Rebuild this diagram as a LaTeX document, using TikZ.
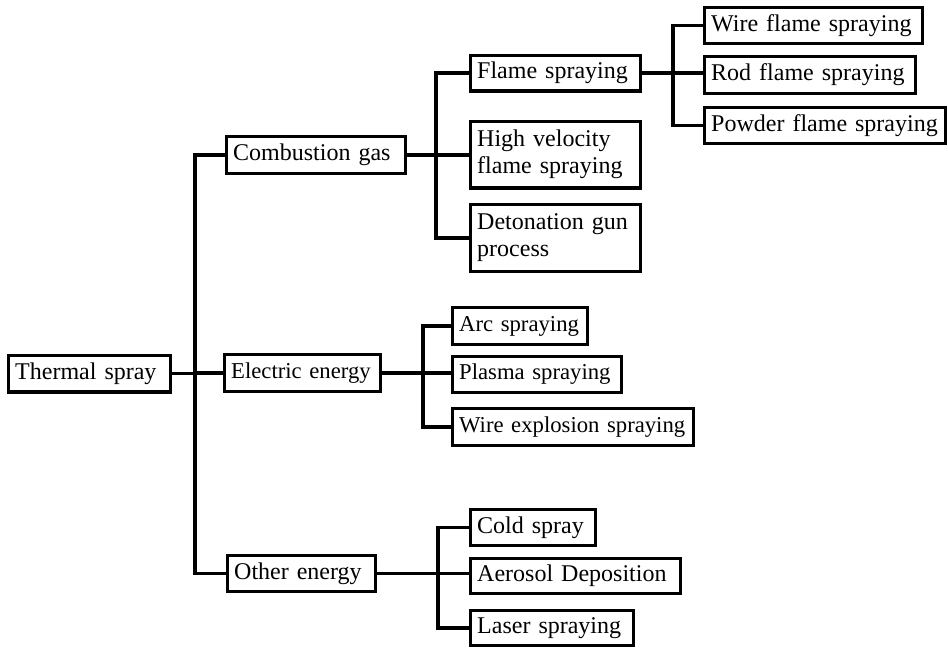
\documentclass[tikz,border=0pt]{standalone}
\usepackage{fontspec}
\setmainfont{Liberation Serif}
\begin{document}
\begin{tikzpicture}[x=1pt,y=-1pt,
  box/.style={draw, line width=3.4pt, inner xsep=6.5pt, inner ysep=0pt,
    align=left, font=\fontsize{24}{27}\selectfont},
  ebox/.style={box, font=\fontsize{22.7}{27}\selectfont},
  conn/.style={line width=3.4pt}]
\useasboundingbox (0,0) rectangle (948,649);
\fill[white] (0,0) rectangle (948,649);

% root and first level
\node[box, text width=148.6pt, minimum height=36.6pt] (thermal) at (89.5,373.5) {Thermal spray};
\node[box, text width=165.6pt, minimum height=36.6pt] (comb) at (316,155) {Combustion gas};
\node[ebox, text width=142.6pt, minimum height=36.6pt] (elec) at (302.5,373) {Electric energy};
\node[box, text width=134.6pt, minimum height=35.6pt] (other) at (301.5,573.5) {Other energy};

% combustion gas branch
\node[box, text width=156.6pt, minimum height=35.6pt] (flame) at (555.5,73) {Flame spraying};
\node[box, text width=156.6pt, minimum height=66.6pt] (hvof) at (555.5,154.5) {High velocity\\flame spraying};
\node[box, text width=156.6pt, minimum height=66.6pt] (deto) at (555.5,238) {Detonation gun\\process};

% flame spraying branch
\node[box, text width=204.6pt, minimum height=35.6pt] (wire) at (813.5,25.5) {Wire flame spraying};
\node[box, text width=197.6pt, minimum height=36.6pt] (rod) at (810,75) {Rod flame spraying};
\node[box, text width=227.6pt, minimum height=35.6pt] (powder) at (825,125.5) {Powder flame spraying};

% electric energy branch
\node[ebox, text width=121.6pt, minimum height=36.6pt] (arc) at (520,326) {Arc spraying};
\node[ebox, text width=155.6pt, minimum height=35.6pt] (plasma) at (537,374.5) {Plasma spraying};
\node[ebox, text width=227.6pt, minimum height=36.6pt] (wexp) at (573,427) {Wire explosion spraying};

% other energy branch
\node[box, text width=111.6pt, minimum height=35.6pt] (cold) at (533,527.5) {Cold spray};
\node[box, text width=196.6pt, minimum height=34.6pt] (aero) at (575.5,576) {Aerosol Deposition};
\node[box, text width=149.6pt, minimum height=34.6pt] (laser) at (552,628) {Laser spraying};

% bus lines
\coordinate (j1) at (195,0);
\coordinate (j2) at (436,0);
\coordinate (j3) at (673,0);
\coordinate (j4) at (423,0);
\coordinate (j5) at (438,0);

\draw[conn] (thermal.east) -- (thermal.east -| j1);
\draw[conn] (comb.west) -| (j1 |- other.west) -- (other.west);
\draw[conn] (elec.west) -- (elec.west -| j1);

\draw[conn] (comb.east) -- (comb.east -| hvof.west);
\draw[conn] (flame.west) -| (j2 |- deto.west) -- (deto.west);

\draw[conn] (flame.east) -- (flame.east -| rod.west);
\draw[conn] (wire.west) -| (j3 |- powder.west) -- (powder.west);

\draw[conn] (elec.east) -- (elec.east -| plasma.west);
\draw[conn] (arc.west) -| (j4 |- wexp.west) -- (wexp.west);

\draw[conn] (other.east) -- (other.east -| aero.west);
\draw[conn] (cold.west) -| (j5 |- laser.west) -- (laser.west);
\end{tikzpicture}
\end{document}
